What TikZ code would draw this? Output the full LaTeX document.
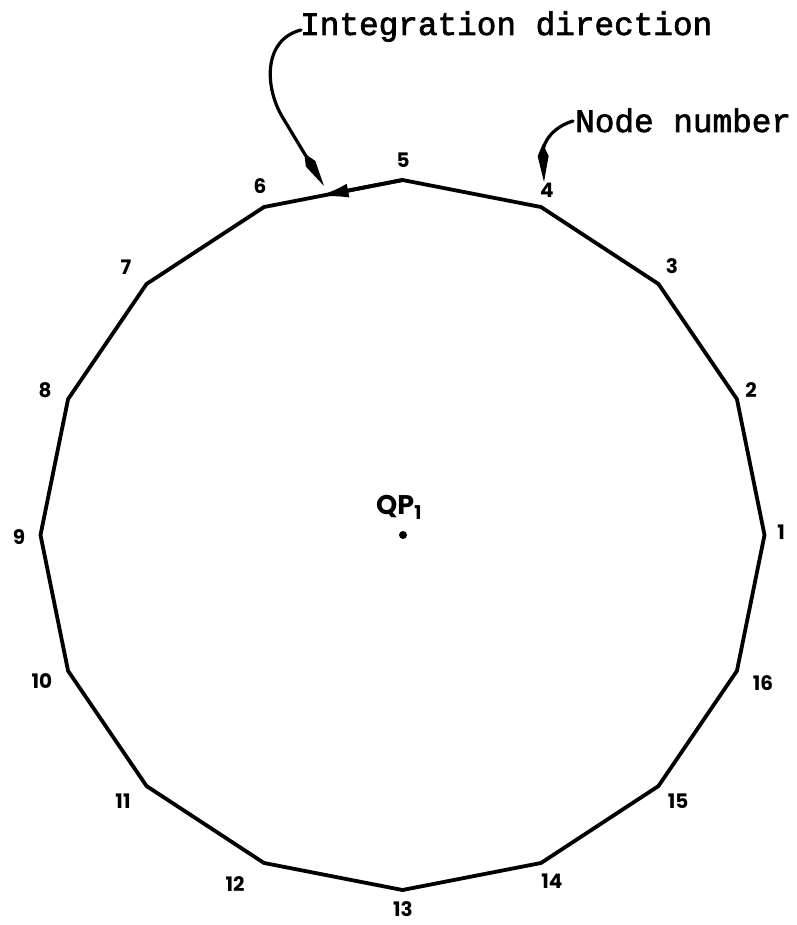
\documentclass[tikz,border=0pt]{standalone}
\usepackage{fontspec}
\setmainfont{Liberation Serif}
\newfontfamily\typefont[FakeBold=2]{Liberation Mono}
\newfontfamily\geofont{Poppins}
\usetikzlibrary{arrows.meta,calc}
\begin{document}
\begin{tikzpicture}[x=1pt,y=-1pt,
  edge/.style={line width=3.8pt, line join=round},
  num/.style={font=\geofont\bfseries\fontsize{20}{20}\selectfont, inner sep=0pt},
  lead/.style={line width=3.2pt, line cap=round, -{Kite[length=38pt,width=11pt,inset=12pt]}},
  tw/.style={font=\typefont\fontsize{32.7}{34}\selectfont, inner sep=0pt, anchor=base west}]
\useasboundingbox (0,0) rectangle (796,925);
\foreach \i in {1,...,16}
  \coordinate (v\i) at ({402.5+362*cos((\i-1)*22.5)}, {535-355*sin((\i-1)*22.5)});
\draw[edge] (v1) -- (v2) -- (v3) -- (v4) -- (v5) -- (v6) -- (v7) -- (v8) -- (v9)
  -- (v10) -- (v11) -- (v12) -- (v13) -- (v14) -- (v15) -- (v16) -- cycle;
% direction arrow on edge 5-6
\draw[line width=3.8pt, -{Latex[length=32pt,width=14pt]}] (v5) -- ($(v5)!0.62!(v6)$);
% node numbers
\node[num] (n1) at (781,532) {1};
\node[num] (n2) at (751,390) {2};
\node[num] (n3) at (672,266) {3};
\node[num] (n4) at (547,190) {4};
\node[num] (n5) at (403,160) {5};
\node[num] (n6) at (260,186) {6};
\node[num] (n7) at (126,267) {7};
\node[num] (n8) at (45,390) {8};
\node[num] (n9) at (19,537) {9};
\node[num] (n10) at (42,681) {10};
\node[num] (n11) at (123,801) {11};
\node[num] (n12) at (235,884) {12};
\node[num] (n13) at (403,909) {13};
\node[num] (n14) at (552,881) {14};
\node[num] (n15) at (678,801) {15};
\node[num] (n16) at (763,683) {16};
% centre
\node[font=\geofont\bfseries\fontsize{27}{27}\selectfont, anchor=base west, inner sep=0pt] (qp) at (376,514)
  {QP\raisebox{-5pt}{\fontsize{19}{19}\selectfont 1}};
\node[circle, fill, inner sep=0pt, minimum size=8pt] (qpdot) at (403,535) {};
% annotations
\node[tw] (intlabel) at (300,35) {Integration direction};
\node[tw] (nodelabel) at (575,132) {Node number};
\coordinate (intstart) at (301,30);
\coordinate (inttip) at (324,186);
\coordinate (nnstart) at (573,121);
\coordinate (nntip) at (544,182);
\draw[lead] (intstart) .. controls (262,40) and (265,89) .. (283,118) -- (inttip);
\draw[lead] (nnstart) .. controls (553,127) and (543,142) .. (543,152) -- (nntip);
\end{tikzpicture}
\end{document}
